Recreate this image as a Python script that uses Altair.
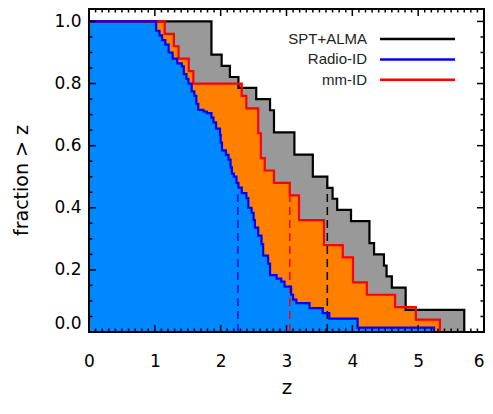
import altair as alt
import pandas as pd

# Cumulative fraction of sources with redshift > z (step positions and fraction after each step)
spt_z = [0.0, 1.86, 2.015, 2.14, 2.27, 2.54, 2.75, 2.81, 3.12, 3.40, 3.62, 3.70, 3.77, 3.98,
         4.26, 4.33, 4.48, 4.52, 4.60, 4.81, 5.70]
spt_f = [1.0, 0.893, 0.857, 0.821, 0.786, 0.750, 0.714, 0.643, 0.571, 0.500, 0.464, 0.429,
         0.393, 0.357, 0.286, 0.250, 0.214, 0.179, 0.143, 0.071, 0.0]

mm_z = [0.0, 1.15, 1.29, 1.36, 1.515, 1.585, 2.32, 2.39, 2.57, 2.61, 2.67, 2.81, 3.05, 3.19,
        3.57, 3.855, 4.01, 4.22, 4.65, 4.965, 5.33]
mm_f = [1.0, 0.96, 0.92, 0.88, 0.84, 0.80, 0.76, 0.72, 0.64, 0.56, 0.52, 0.48, 0.44, 0.36,
        0.28, 0.24, 0.16, 0.12, 0.08, 0.04, 0.0]

radio_z = [0.0, 1.02, 1.07, 1.11, 1.16, 1.21, 1.27, 1.34, 1.41, 1.44, 1.48, 1.51, 1.56, 1.60,
           1.63, 1.66, 1.74, 1.79, 1.86, 1.89, 1.93, 1.99, 2.00, 2.02, 2.08, 2.12, 2.15, 2.17,
           2.20, 2.24, 2.27, 2.32, 2.39, 2.42, 2.47, 2.50, 2.52, 2.57, 2.62, 2.645, 2.72, 2.75,
           2.85, 2.92, 2.97, 3.07, 3.10, 3.15, 3.35, 3.55, 3.65, 4.08, 5.24]
radio_f = [1.0, 0.97, 0.955, 0.94, 0.925, 0.90, 0.88, 0.865, 0.855, 0.83, 0.815, 0.80, 0.775,
           0.76, 0.735, 0.715, 0.71, 0.705, 0.69, 0.675, 0.655, 0.635, 0.61, 0.585, 0.57, 0.555,
           0.53, 0.51, 0.50, 0.48, 0.465, 0.447, 0.431, 0.40, 0.384, 0.36, 0.336, 0.31, 0.283,
           0.246, 0.22, 0.183, 0.172, 0.162, 0.146, 0.12, 0.104, 0.093, 0.077, 0.061, 0.043,
           0.014, 0.0]

# medians (dashed lines)
median_z = [2.26, 3.05, 3.62]
median_top = [0.46, 0.46, 0.48]
median_colors = ["#0000ff", "#ff0000", "#000000"]

legend_names = ["SPT+ALMA", "Radio-ID", "mm-ID"]
legend_colors = ["#000000", "#0000ff", "#ff0000"]

x_major = [0, 1, 2, 3, 4, 5, 6]
y_major = [0.0, 0.2, 0.4, 0.6, 0.8, 1.0]
x_minor = [round(i * 0.1, 1) for i in range(61) if i % 10]
y_minor = [round(i * 0.05, 2) for i in range(21) if i % 4]

W, H = 395, 323
XS = alt.Scale(domain=[0, 6], nice=False, zero=False)
YS = alt.Scale(domain=[0, 1.04], nice=False, zero=False)

xaxis = alt.Axis(values=x_major, format="d", ticks=False, domain=False, grid=False,
                 labelFont="DejaVu Sans", labelFontSize=17, labelColor="black",
                 labelPadding=21, labelFlush=False,
                 labelAlign={"condition": {"test": "datum.value == 6", "value": "right"},
                             "value": "center"},
                 titleFont="DejaVu Sans", titleFontSize=20, titleFontWeight="normal",
                 titleColor="black", titleX=W / 2, titleY=61, titleAlign="center",
                 titleBaseline="alphabetic")
yaxis = alt.Axis(values=y_major, format=".1f", ticks=False, domain=False, grid=False,
                 labelFont="DejaVu Sans", labelFontSize=17, labelColor="black",
                 labelPadding=8, labelFlush=True,
                 titleFont="DejaVu Sans", titleFontSize=19, titleFontWeight="normal",
                 titleColor="black", titleAngle=270, titleX=-68, titleY=171,
                 titleAlign="center", titleBaseline="middle")


def X(field):
    return alt.X(field, type="quantitative", scale=XS, axis=xaxis, title="z")


def Y(field):
    return alt.Y(field, type="quantitative", scale=YS, axis=yaxis, title="fraction > z")


def step_df(z, f):
    return pd.DataFrame({"z": z, "f": f})


spt = step_df(spt_z, spt_f)
mm = step_df(mm_z, mm_f)
radio = step_df(radio_z, radio_f)

layers = []
for df, fill in [(spt, "#999999"), (mm, "#ff7f00"), (radio, "#0088ff")]:
    layers.append(
        alt.Chart(df).mark_area(interpolate="step-after", color=fill, opacity=1).encode(
            x=X("z"), y=Y("f"))
    )

med = pd.DataFrame({"z": median_z, "top": median_top, "base": [0.0] * 3, "c": median_colors})
layers.append(
    alt.Chart(med).mark_rule(strokeDash=[8, 5], strokeWidth=1.5).encode(
        x=X("z"), y=Y("base"), y2="top:Q", color=alt.Color("c:N", scale=None))
)

for df, col in [(spt, "#000000"), (mm, "#ff0000"), (radio, "#0000ff")]:
    layers.append(
        alt.Chart(df).mark_line(interpolate="step-after", color=col, strokeWidth=2.2,
                                strokeJoin="miter", strokeCap="butt").encode(
            x=X("z"), y=Y("f"))
    )


def xticks(vals, length, top):
    d = pd.DataFrame({"v": vals})
    if top:
        y, y2 = alt.value(0), alt.value(length)
    else:
        y, y2 = alt.value(H), alt.value(H - length)
    return alt.Chart(d).mark_rule(color="black", strokeWidth=1.5).encode(x=X("v"), y=y, y2=y2)


def yticks(vals, length, right):
    d = pd.DataFrame({"v": vals})
    if right:
        x, x2 = alt.value(W), alt.value(W - length)
    else:
        x, x2 = alt.value(0), alt.value(length)
    return alt.Chart(d).mark_rule(color="black", strokeWidth=1.5).encode(y=Y("v"), x=x, x2=x2)


for top in (False, True):
    layers.append(xticks(x_major, 7, top))
    layers.append(xticks(x_minor, 3.5, top))
for right in (False, True):
    layers.append(yticks(y_major, 7, right))
    layers.append(yticks(y_minor, 3.5, right))

# frame
layers.append(
    alt.Chart(pd.DataFrame({"a": [0]})).mark_rect(filled=False, stroke="black", strokeWidth=2).encode(
        x=alt.value(0), x2=alt.value(W), y=alt.value(0), y2=alt.value(H))
)

# legend
for i, (name, col) in enumerate(zip(legend_names, legend_colors)):
    ly = 30 + 20.4 * i
    one = pd.DataFrame({"t": [name]})
    layers.append(
        alt.Chart(one).mark_text(align="right", baseline="middle", font="Liberation Sans",
                                 fontSize=15, color="#222222").encode(
            text="t:N", x=alt.value(278), y=alt.value(ly))
    )
    layers.append(
        alt.Chart(one).mark_rule(color=col, strokeWidth=2.5).encode(
            x=alt.value(291), x2=alt.value(366), y=alt.value(ly))
    )

chart = alt.layer(*layers).properties(
    width=W, height=H,
    autosize=alt.AutoSizeParams(type="none"),
    padding={"left": 81, "top": 1, "right": 1, "bottom": 67},
    background="white",
).configure_view(stroke=None)

chart.save("out.html", embed_options={"renderer": "svg", "actions": False})
